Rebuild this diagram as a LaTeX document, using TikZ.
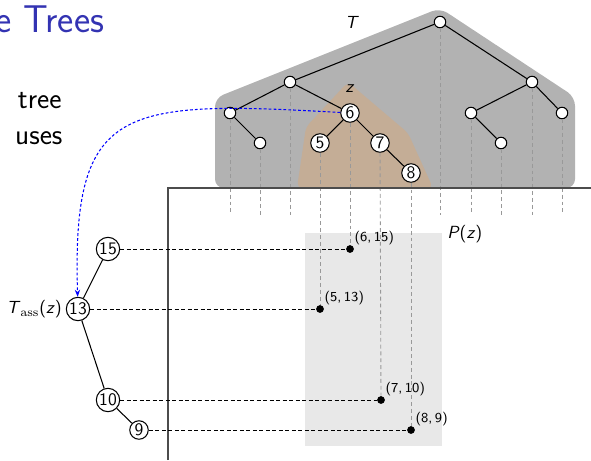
\documentclass[tikz,border=0pt]{standalone}
\usetikzlibrary{arrows.meta}
\definecolor{titleblue}{RGB}{51,51,178}
\definecolor{subtree}{RGB}{196,173,150}

\begin{document}
\begin{tikzpicture}[x=0.02cm, y=-0.02cm, font=\sffamily, line width=0.6pt,
    tnode/.style={circle, draw, fill=white, inner sep=0pt, minimum size=0.23cm},
    knode/.style={circle, draw, fill=white, inner sep=0.4pt, minimum size=0.37cm, font=\sffamily\fontsize{10}{10}\selectfont},
    pnode/.style={circle, fill=black, inner sep=0pt, minimum size=0.155cm},
    lbl/.style={font=\sffamily\fontsize{10}{12}\selectfont, inner sep=1pt},
    plbl/.style={font=\sffamily\fontsize{7.8}{9}\selectfont, inner sep=0.5pt},
    proj/.style={draw=gray!80, line width=0.5pt, dash pattern=on 2.2pt off 1.7pt},
    link/.style={line width=0.55pt, dash pattern=on 2.2pt off 1.5pt},
    uses/.style={blue, line width=0.6pt, dash pattern=on 1.6pt off 1.2pt, -{Stealth[length=4pt, width=3pt]}}]
    \useasboundingbox (0,0) rectangle (591,460);

    % Slide text
    \node[anchor=base west, inner sep=0, text=titleblue, font=\sffamily\fontsize{22}{26}\selectfont] (title) at (-5,32) {e Trees};
    \node[anchor=base east, inner sep=0, font=\sffamily\fontsize{16.6}{20}\selectfont] (tree) at (62,108) {tree};
    \node[anchor=base east, inner sep=0, font=\sffamily\fontsize{16.6}{20}\selectfont] (uses) at (63,144) {uses};

    % Shaded regions
    \fill[gray!60, rounded corners=5pt] (215,188) -- (215,98) -- (440,8) -- (575,97) -- (575,188) -- cycle;
    \fill[subtree, rounded corners=3pt] (297,188) -- (306,127) -- (348,82) -- (408,133) -- (433,188) -- cycle;
    \fill[gray!18] (305,233) rectangle (442,446);

    % Main tree T
    \node[tnode] (t0) at (440,22) {};
    \node[tnode] (tL) at (290,82) {};
    \node[tnode] (tR) at (532,82) {};
    \node[tnode] (tLL) at (230,113) {};
    \node[tnode] (tLLR) at (260,143) {};
    \node[tnode] (tRL) at (471,113) {};
    \node[tnode] (tRLR) at (501,143) {};
    \node[tnode] (tRR) at (562,113) {};
    \node[knode] (k6) at (350,113) {6};
    \node[knode] (k5) at (320,143) {5};
    \node[knode] (k7) at (380,143) {7};
    \node[knode] (k8) at (411,173) {8};

    \draw (t0) -- (tL) (t0) -- (tR);
    \draw (tL) -- (tLL) (tLL) -- (tLLR) (tL) -- (k6);
    \draw (k6) -- (k5) (k6) -- (k7) (k7) -- (k8);
    \draw (tR) -- (tRL) (tRL) -- (tRLR) (tR) -- (tRR);

    \node[lbl] (tlabel) at (352,22) {\textit{T}};
    \node[lbl] (zlabel) at (350,89) {\textit{z}};

    % Points of P(z)
    \node[pnode, label={[plbl]above right:(6,\,15)}] (p6) at (350,249) {};
    \node[pnode, label={[plbl]above right:(5,\,13)}] (p5) at (320,309) {};
    \node[pnode, label={[plbl]above right:(7,\,10)}] (p7) at (381,400) {};
    \node[pnode, label={[plbl]above right:(8,\,9)}] (p8) at (411,430) {};
    \node[lbl, anchor=west] (pz) at (445,234) {\textit{P}(\textit{z})};

    % Projections down to the x-axis
    \foreach \n in {tLL, tLLR, tL, t0, tRL, tRLR, tR, tRR}
        \draw[proj] (\n) -- (\n |- 0,215);
    \draw[proj] (k6) -- (p6);
    \draw[proj] (k5) -- (p5);
    \draw[proj] (k7) -- (p7);
    \draw[proj] (k8) -- (p8);

    % Axes
    \draw[draw=black!70, line width=0.85pt] (168,460) -- (168,188) -- (591,188);

    % Associated structure
    \node[knode, label={[lbl, label distance=1pt]left:\textit{T}$_{\mathrm{ass}}$(\textit{z})}] (a13) at (78,309) {13};
    \node[knode] (a15) at (108,249) {15};
    \node[knode] (a10) at (108,400) {10};
    \node[knode] (a9) at (139,430) {9};
    \draw (a13) -- (a15) (a13) -- (a10) (a10) -- (a9);

    \draw[link] (a15) -- (p6);
    \draw[link] (a13) -- (p5);
    \draw[link] (a10) -- (p7);
    \draw[link] (a9) -- (p8);

    \draw[uses] (k6) .. controls (120,100) and (72,105) .. (a13);
\end{tikzpicture}
\end{document}
